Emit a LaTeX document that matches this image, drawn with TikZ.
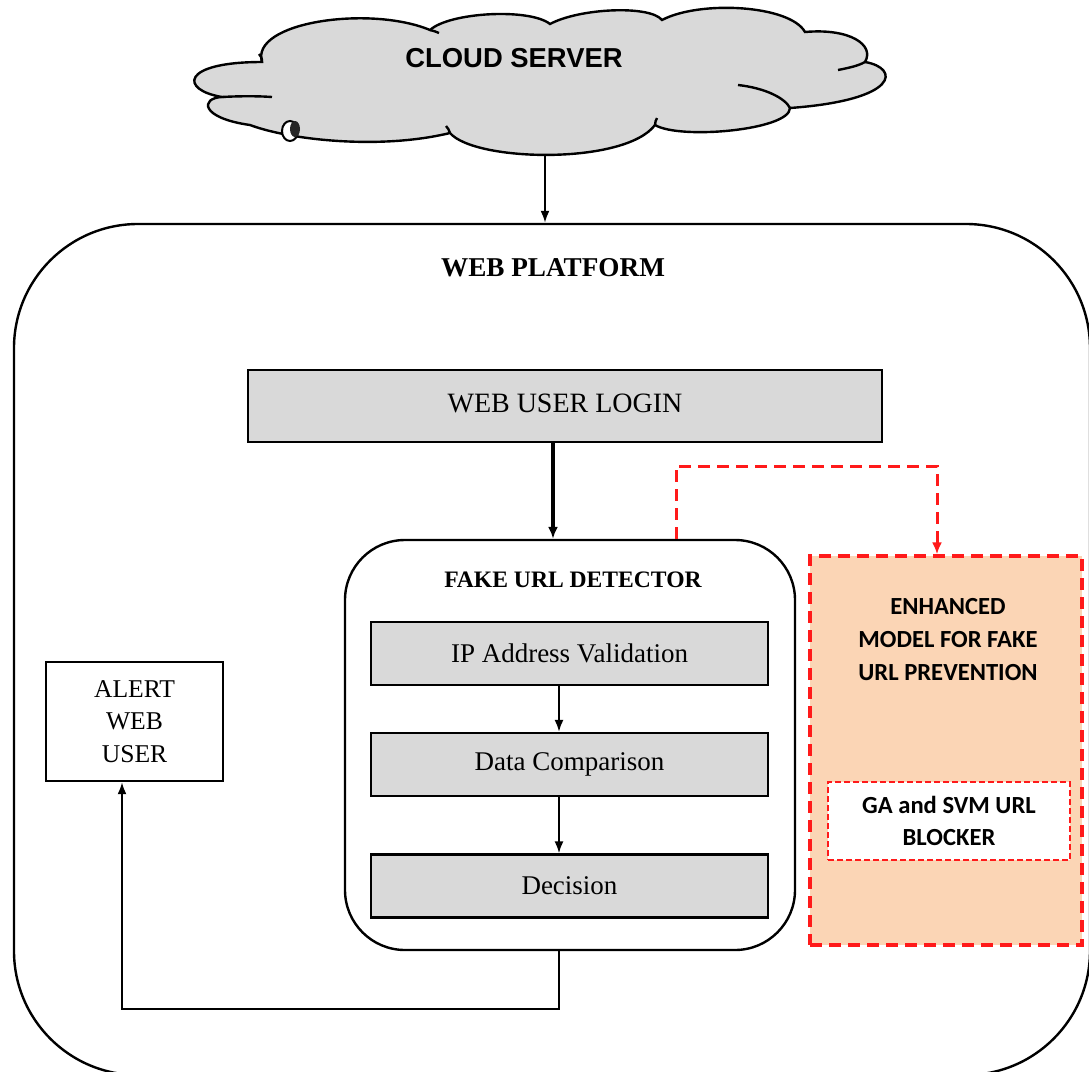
\documentclass[tikz,border=0pt]{standalone}
\usepackage{fontspec}
\setmainfont{Liberation Serif}
\newfontfamily\arialf{Liberation Sans}
\newfontfamily\calibf{Carlito}
\usetikzlibrary{arrows.meta}
\definecolor{boxgrey}{HTML}{D9D9D9}
\definecolor{peach}{HTML}{FBD5B5}
\definecolor{redd}{HTML}{FF1A1A}
\tikzset{
  greybox/.style={draw=black, line width=1.1pt, fill=boxgrey, minimum width=198.5pt, minimum height=31.5pt, inner sep=0pt, font=\fontsize{13.5}{16}\selectfont},
  arr/.style={draw=black, line width=1pt, -{Latex[length=6pt,width=4.5pt]}},
  thickarr/.style={draw=black, line width=1.6pt, -{Latex[length=6pt,width=5pt]}},
  redarr/.style={draw=redd, line width=1.5pt, dash pattern=on 6pt off 3.5pt, -{Latex[length=6pt,width=5pt]}},
}
\begin{document}
\begin{tikzpicture}[x=0.5pt, y=-0.5pt]
\path[use as bounding box, clip] (0,0) rectangle (1089,1072);
\fill[white] (0,0) rectangle (1089,1072);

% Cloud
\draw[line width=1.2pt, fill=boxgrey]
  (262,62) .. controls (250,22) and (370,5) .. (430,30)
  .. controls (450,12) and (530,8) .. (550,24)
  .. controls (580,8) and (650,5) .. (662,20)
  .. controls (700,0) and (790,5) .. (805,32)
  .. controls (850,28) and (875,45) .. (865,62)
  .. controls (900,68) and (900,100) .. (790,108)
  .. controls (790,130) and (680,140) .. (655,125)
  .. controls (625,165) and (475,162) .. (450,133)
  .. controls (380,150) and (290,140) .. (250,125)
  .. controls (200,118) and (200,98) .. (222,97)
  .. controls (180,90) and (180,62) .. (262,62) -- cycle;
% inner hooks of the cloud
\draw[line width=1.2pt] (430,30) .. controls (434,31) and (437,32) .. (439,33);
\draw[line width=1.2pt] (222,97) .. controls (240,96) and (258,96) .. (272,97);
\draw[line width=1.2pt] (262,62) .. controls (262,58) and (261,56) .. (259,54);
\draw[line width=1.2pt] (865,62) .. controls (858,66) and (848,68) .. (838,70);
\draw[line width=1.2pt] (790,108) .. controls (785,98) and (765,88) .. (738,85);
\draw[line width=1.2pt] (655,125) .. controls (655,122) and (656,120) .. (657,118);
\draw[line width=1.2pt] (450,133) .. controls (449,130) and (448,128) .. (446,126);
% small marker on the cloud outline
\draw[line width=1pt, fill=white] (290,131) ellipse (8 and 10);
\fill[black!85] (295,129) ellipse (5 and 8);
\node[font=\arialf\bfseries\fontsize{13.7}{16}\selectfont] (cloud) at (514,58) {CLOUD SERVER};
\coordinate (cb) at (545,155);

% Web platform
\node[draw=black, line width=1.2pt, rounded corners=62pt, minimum width=538pt, minimum height=425.5pt, inner sep=0pt] (wp) at (552,649.5) {};
\node[font=\bfseries\fontsize{13.6}{16}\selectfont] (wpt) at (553,268) {WEB PLATFORM};

% Web user login
\node[draw=black, line width=1pt, fill=boxgrey, minimum width=317pt, minimum height=36pt, inner sep=0pt, font=\fontsize{14}{16}\selectfont] (login) at (565,406) {\raisebox{3pt}{WEB USER LOGIN}};

% Fake URL detector
\node[draw=black, line width=1.2pt, rounded corners=30pt, fill=white, minimum width=225pt, minimum height=205pt, inner sep=0pt] (det) at (570,745) {};
\node[font=\bfseries\fontsize{11.8}{14}\selectfont] (dett) at (573,580) {FAKE URL DETECTOR};
\node[greybox] (ip) at (569.5,653.5) {IP Address Validation};
\node[greybox] (data) at (569.5,764.5) {Data Comparison};
\node[greybox] (dec) at (569.5,886) {Decision};

% Alert web user
\node[draw=black, line width=1.2pt, fill=white, minimum width=88.5pt, minimum height=59.5pt, inner sep=0pt, align=center, font=\fontsize{12.8}{16.3}\selectfont] (alert) at (134.5,721.5) {ALERT\\WEB\\USER};

% Enhanced model
\node[draw=redd, line width=1.6pt, dash pattern=on 6pt off 3.5pt, fill=peach, minimum width=136pt, minimum height=194.5pt, inner sep=0pt] (enh) at (946,750.5) {};
\node[align=center, font=\calibf\bfseries\fontsize{12.3}{16.5}\selectfont] (enht) at (948,640) {ENHANCED\\MODEL FOR FAKE\\URL PREVENTION};
\node[draw=redd, line width=0.8pt, dash pattern=on 3pt off 1.5pt, fill=white, minimum width=121pt, minimum height=39pt, inner sep=0pt, align=center, font=\calibf\bfseries\fontsize{12.3}{16}\selectfont] (ga) at (949,821) {GA and SVM URL\\BLOCKER};

% helper coordinates
\coordinate (xa) at (553,0);
\coordinate (xb) at (559,0);
\coordinate (xc) at (122,0);
\coordinate (xd) at (676,0);
\coordinate (xe) at (937,0);
\coordinate (yc) at (0,1009);
\coordinate (yd) at (0,466);

% connectors
\draw[arr] (cb) -- (cb |- wp.north);
\draw[thickarr] (login.south -| xa) -- (det.north -| xa);
\draw[arr] (ip.south -| xb) -- (data.north -| xb);
\draw[arr] (data.south -| xb) -- (dec.north -| xb);
\draw[arr] (det.south -| xb) -- (xb |- yc) -- (xc |- yc) -- (alert.south -| xc);
\draw[redarr] (det.north -| xd) -- (xd |- yd) -- (xe |- yd) -- (enh.north -| xe);
\end{tikzpicture}
\end{document}
